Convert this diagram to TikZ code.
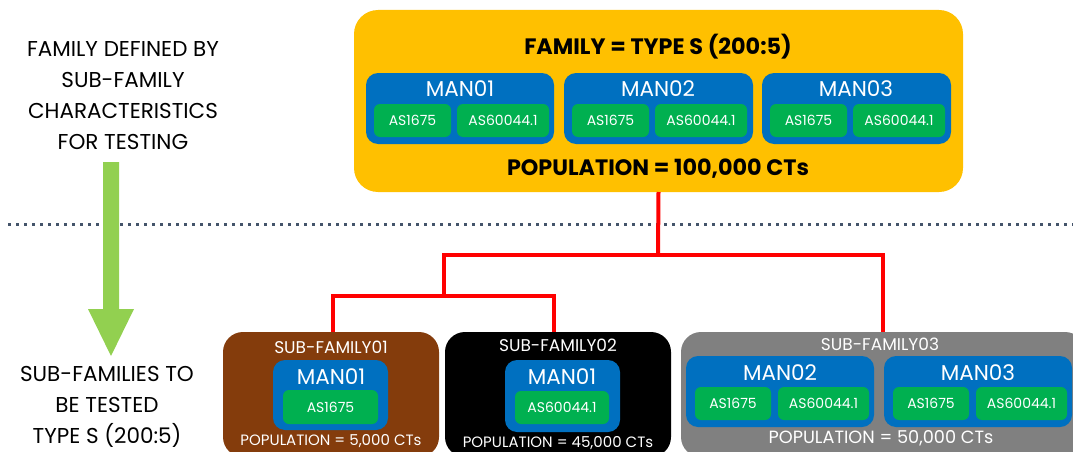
\documentclass[tikz,border=0pt]{standalone}
\usepackage{fontspec}
\setmainfont{Poppins}
\usetikzlibrary{calc}
\definecolor{famgold}{HTML}{FFC000}
\definecolor{manblue}{HTML}{0070C0}
\definecolor{stdgreen}{HTML}{00B050}
\definecolor{sfbrown}{HTML}{843C0C}
\definecolor{sfgray}{HTML}{808080}
\definecolor{arrowgreen}{HTML}{92D050}
\definecolor{dotslate}{HTML}{44546A}
\definecolor{linkred}{HTML}{FF0000}
\tikzset{
  panel/.style={draw=none, inner sep=0pt, outer sep=0pt, anchor=north west},
  fambox/.style={panel, fill=famgold, rounded corners=24pt},
  subbox/.style={panel, rounded corners=20pt},
  manbox/.style={panel, fill=manblue, rounded corners=12pt},
  stdbox/.style={panel, fill=stdgreen, rounded corners=6pt, text=white,
    font=\fontsize{14}{16}\selectfont, anchor=center},
  mantext/.style={text=white, font=\fontsize{21.5}{24}\selectfont, inner sep=0pt},
  sftext/.style={text=white, font=\fontsize{17}{20}\selectfont, inner sep=0pt},
  poptext/.style={text=white, font=\fontsize{15}{18}\selectfont, inner sep=0pt},
  bigpoptext/.style={text=white, font=\fontsize{17.7}{20}\selectfont, inner sep=0pt},
  bigtext/.style={font=\bfseries\fontsize{22.3}{26}\selectfont, inner sep=0pt},
  sidetext/.style={align=center, font=\fontsize{21.5}{31}\selectfont, inner sep=0pt},
  link/.style={draw=linkred, line width=4pt, line join=miter},
}
% a standard box given by its corners
\newcommand{\stdat}[6]{%
  \node[stdbox, minimum width=#4-#2, minimum height=#5-#3] (#1) at ({(#2+#4)/2},{(#3+#5)/2}) {#6};}
\begin{document}
\begin{tikzpicture}[x=1pt, y=-1pt]
\useasboundingbox (0,0) rectangle (1073,452);

% ---- family level ----
\node[fambox, minimum width=609pt, minimum height=182pt] (fam) at (354,10) {};
\node[bigtext] (famtitle) at (658,47) {FAMILY = TYPE S (200:5)};
\node[bigtext] (fampop) at (658,169) {POPULATION = 100,000 CTs};

\node[manbox, minimum width=188pt, minimum height=71pt] (fm1) at (366,73) {};
\node[manbox, minimum width=189pt, minimum height=71pt] (fm2) at (564,73) {};
\node[manbox, minimum width=189pt, minimum height=71pt] (fm3) at (762,73) {};
\node[mantext] (fm1t) at (460,89) {MAN01};
\node[mantext] (fm2t) at (658,89) {MAN02};
\node[mantext] (fm3t) at (856,89) {MAN03};
\stdat{fs1a}{374}{104}{451}{137}{AS1675}
\stdat{fs1b}{457}{104}{549}{137}{AS60044.1}
\stdat{fs2a}{572}{104}{649}{137}{AS1675}
\stdat{fs2b}{655}{104}{747}{137}{AS60044.1}
\stdat{fs3a}{770}{104}{847}{137}{AS1675}
\stdat{fs3b}{853}{104}{945}{137}{AS60044.1}

% ---- separator and direction arrow ----
\coordinate (sepL) at (8,224);
\coordinate (sepR) at (1073,224);
\draw[dotslate, line width=3pt, dash pattern=on 3pt off 5pt] (sepL) -- (sepR);
\fill[arrowgreen] (103,162) -- (119,162) -- (119,309) -- (134,309) -- (111,356)
  -- (88,309) -- (103,309) -- cycle;

\node[sidetext] (sidetop) at (123,96) {FAMILY DEFINED BY\\SUB-FAMILY\\CHARACTERISTICS\\FOR TESTING};
\node[sidetext] (sidebot) at (107,407) {SUB-FAMILIES TO\\BE TESTED\\TYPE S (200:5)};

% ---- sub-families ----
\node[subbox, fill=sfbrown, minimum width=216pt, minimum height=125pt] (sf1) at (223,332) {};
\node[subbox, fill=black, minimum width=226pt, minimum height=125pt] (sf2) at (445,332) {};
\node[subbox, fill=sfgray, minimum width=404pt, minimum height=125pt] (sf3) at (681,332) {};

\node[sftext] (sf1t) at (331,347) {SUB-FAMILY01};
\node[manbox, minimum width=115pt, minimum height=70pt] (s1m) at (273,360) {};
\node[mantext] (s1mt) at (331,377) {MAN01};
\stdat{s1s}{283}{390}{378}{424}{AS1675}
\node[poptext] (sf1p) at (331,441) {POPULATION = 5,000 CTs};

\node[sftext] (sf2t) at (558,345) {SUB-FAMILY02};
\node[manbox, minimum width=115pt, minimum height=72pt] (s2m) at (505,360) {};
\node[mantext] (s2mt) at (562,377) {MAN01};
\stdat{s2s}{515}{391}{609}{424}{AS60044.1}
\node[poptext] (sf2p) at (558,443) {POPULATION = 45,000 CTs};

\node[sftext] (sf3t) at (880,344) {SUB-FAMILY03};
\node[manbox, minimum width=188pt, minimum height=71pt] (s3m2) at (686,356) {};
\node[manbox, minimum width=188pt, minimum height=71pt] (s3m3) at (884,356) {};
\node[mantext] (s3m2t) at (780,373) {MAN02};
\node[mantext] (s3m3t) at (978,373) {MAN03};
\stdat{s3a}{695}{387}{771}{420}{AS1675}
\stdat{s3b}{778}{387}{869}{420}{AS60044.1}
\stdat{s3c}{893}{387}{969}{420}{AS1675}
\stdat{s3d}{976}{387}{1067}{420}{AS60044.1}
\node[bigpoptext] (sf3p) at (881,438) {POPULATION = 50,000 CTs};

% ---- red tree connecting the family to its sub-families ----
\coordinate (jA) at (658,255);
\coordinate (jB) at (444,296);
\draw[link] (fam.south) -- (jA);
\draw[link] (jB) |- (jA) -| (sf3.north);
\draw[link] ([xshift=2pt]sf1.north) |- (jB) -| ([xshift=-4pt]sf2.north);
\end{tikzpicture}
\end{document}
